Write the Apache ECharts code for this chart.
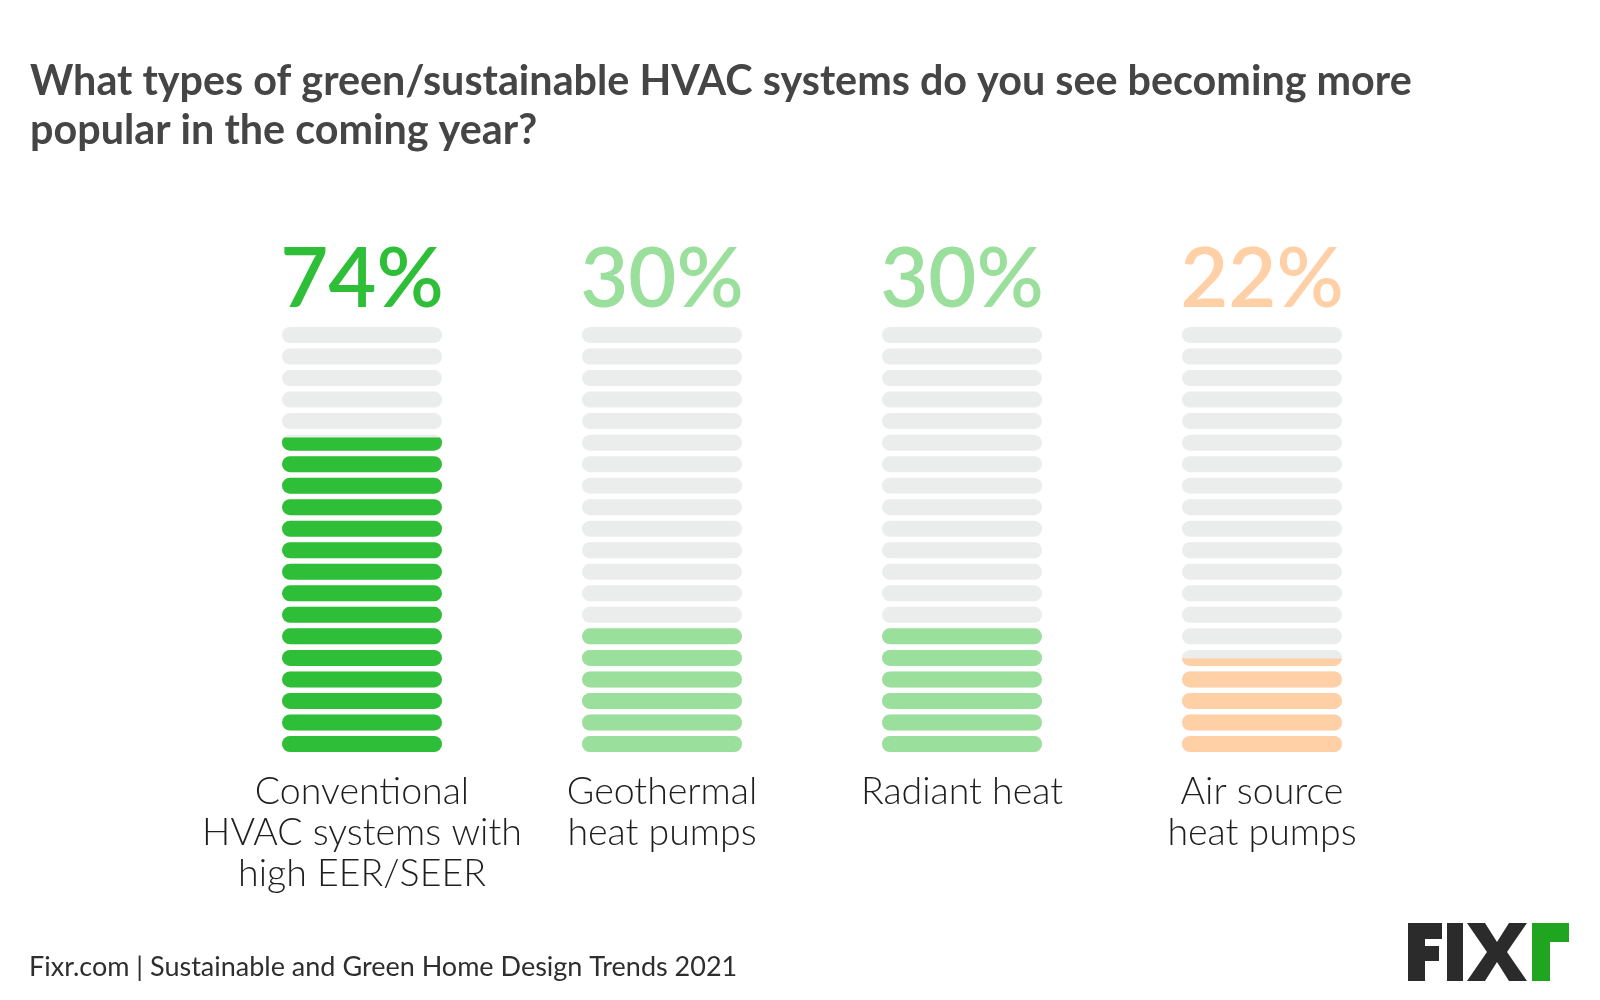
<!DOCTYPE html>
<html><head><meta charset="utf-8">
<script src="https://cdn.jsdelivr.net/npm/echarts@6/dist/echarts.min.js"></script>
<style>html,body{margin:0;padding:0;background:#fff}#c{width:1600px;height:1000px}</style>
</head><body><div id="c"></div>
<script>
const titleLines = ['What types of green/sustainable HVAC systems do you see becoming more', 'popular in the coming year?'];
const categories = ['Conventional\nHVAC systems with\nhigh EER/SEER', 'Geothermal\nheat pumps', 'Radiant heat', 'Air source\nheat pumps'];
const values = [74, 30, 30, 22];
const barColors = ['#2EBE37', '#9ADF9B', '#9ADF9B', '#FFCFA6'];
const segmentCount = 20;
const scaleMax = 100;
const footerText = 'Fixr.com | Sustainable and Green Home Design Trends 2021';

const pill = 'path://M8,0 H152 A8,8 0 0 1 152,16 H8 A8,8 0 0 1 8,0 Z';
const rich = {};
barColors.forEach((c, i) => { rich['c' + i] = { color: c, fontFamily: 'Lato', fontWeight: 600, fontSize: 83 }; });

const chart = echarts.init(document.getElementById('c'), null, { renderer: 'canvas' });
chart.setOption({
  animation: false,
  backgroundColor: '#ffffff',
  title: {
    text: titleLines.join('\n'),
    left: 30, top: 57, padding: 0,
    textStyle: { fontFamily: 'Lato', fontWeight: 'bold', fontSize: 41.3, lineHeight: 49, color: '#454545' }
  },
  grid: { left: 212, width: 1200, top: 327, height: 425 },
  xAxis: [{
    type: 'category', data: categories, position: 'bottom',
    axisLine: { show: false }, axisTick: { show: false },
    axisLabel: { interval: 0, margin: 19, fontFamily: 'Lato', fontWeight: 300, fontSize: 37.5, lineHeight: 41, color: '#1e1e1e', verticalAlign: 'top' }
  }, {
    type: 'category', data: values.map(v => v + '%'), position: 'top',
    axisLine: { show: false }, axisTick: { show: false },
    axisLabel: { interval: 0, margin: 5, formatter: (v, i) => '{c' + i + '|' + v + '}', rich: rich }
  }],
  yAxis: { type: 'value', min: 0, max: scaleMax, show: false, splitLine: { show: false } },
  series: [{
    type: 'pictorialBar', name: 'background', xAxisIndex: 0,
    data: values, symbol: pill, symbolSize: [160, 16],
    symbolRepeat: segmentCount, symbolBoundingData: scaleMax, symbolClip: false,
    barGap: '-100%', itemStyle: { color: '#EBECEC' }, z: 2
  }, {
    type: 'pictorialBar', name: 'value', xAxisIndex: 0,
    data: values.map((v, i) => ({ value: v, itemStyle: { color: barColors[i] } })),
    symbol: pill, symbolSize: [160, 16],
    symbolRepeat: segmentCount, symbolBoundingData: scaleMax, symbolClip: true,
    barGap: '-100%', z: 3
  }],
  graphic: [
    { type: 'text', left: 29, top: 954, style: { text: footerText, fontFamily: 'Lato', fontSize: 27, fill: '#2e2e2e' } },
    { type: 'polygon', shape: { points: [[1408,923],[1442,923],[1442,939],[1425,939],[1425,946],[1439,946],[1439,961],[1425,961],[1425,981],[1408,981]] }, style: { fill: '#2b2b2b' } },
    { type: 'rect', shape: { x: 1447, y: 923, width: 16, height: 58 }, style: { fill: '#2b2b2b' } },
    { type: 'polygon', shape: { points: [[1467,923],[1485,923],[1497,942],[1509,923],[1527,923],[1507,952],[1527,981],[1509,981],[1497,962],[1485,981],[1467,981],[1487,952]] }, style: { fill: '#2b2b2b' } },
    { type: 'polygon', shape: { points: [[1532,923],[1569,923],[1569,942],[1550,942],[1550,981],[1532,981]] }, style: { fill: '#1FA51F' } }
  ]
});
</script></body></html>
